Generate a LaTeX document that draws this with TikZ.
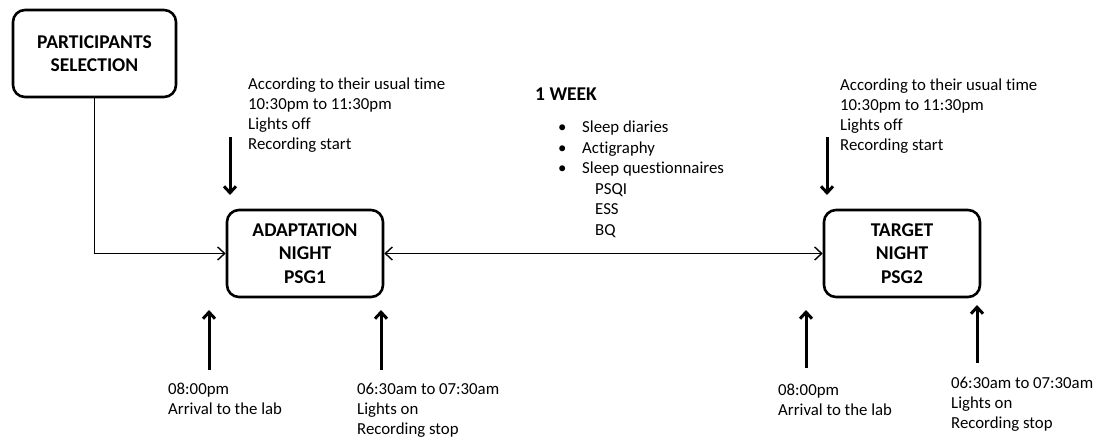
\documentclass[tikz,border=0pt]{standalone}
\usepackage{fontspec}
\setmainfont{Carlito}[RawFeature=-liga]
\usetikzlibrary{arrows.meta}
\newcommand{\txtfnt}{\fontsize{16.8pt}{20pt}\selectfont}
\newcommand{\lstfnt}{\fontsize{16.8pt}{20.5pt}\selectfont}
\newcommand{\boxfnt}{\fontsize{19.5pt}{23.5pt}\selectfont\bfseries}
\begin{document}
\begin{tikzpicture}[x=1pt,y=-1pt,
  stagebox/.style={draw, line width=2.6pt, rounded corners=12pt, align=center,
    font=\boxfnt, inner sep=0pt},
  lbl/.style={anchor=north west, align=left, inner sep=0pt, font=\txtfnt},
  thinarrow/.style={line width=1.4pt, -{Straight Barb[length=7pt,width=13pt]}},
  thinboth/.style={line width=1.4pt, {Straight Barb[length=7pt,width=13pt]}-{Straight Barb[length=7pt,width=13pt]}},
  thickarrow/.style={line width=3pt, -{Straight Barb[length=6.5pt,width=12pt]}}]
\useasboundingbox (0,0) rectangle (1097,437);

% boxes
\node[stagebox, minimum width=163pt, minimum height=87pt] (ps) at (94.5,53.5) {PARTICIPANTS\\SELECTION};
\node[stagebox, minimum width=156pt, minimum height=87pt] (ad) at (305,253.5) {ADAPTATION\\NIGHT\\PSG1};
\node[stagebox, minimum width=156pt, minimum height=87pt] (tg) at (902,253.5) {TARGET\\NIGHT\\PSG2};

% connectors between boxes
\draw[thinarrow] (ps.south) |- (ad.west);
\draw[thinboth] (ad.east) -- (tg.west);

% labels
\node[lbl] (t1) at (248,78) {According to their usual time\\10:30pm to 11:30pm\\Lights off\\Recording start};
\node[lbl] (t2) at (840,79) {According to their usual time\\10:30pm to 11:30pm\\Lights off\\Recording start};
\node[lbl] (b1) at (168,383) {08:00pm\\Arrival to the lab};
\node[lbl] (b2) at (357,383) {06:30am to 07:30am\\Lights on\\Recording stop};
\node[lbl] (b3) at (778,384) {08:00pm\\Arrival to the lab};
\node[lbl] (b4) at (951,377) {06:30am to 07:30am\\Lights on\\Recording stop};

\node[anchor=north west, inner sep=0pt, font=\boxfnt] (wk) at (535,88) {1 WEEK};
\node[anchor=north west, align=left, inner sep=0pt, font=\lstfnt] (lst) at (558,121)
  {\makebox[24pt][l]{\textbullet}Sleep diaries\\
   \makebox[24pt][l]{\textbullet}Actigraphy\\
   \makebox[24pt][l]{\textbullet}Sleep questionnaires\\
   \hspace*{37pt}PSQI\\
   \hspace*{37pt}ESS\\
   \hspace*{37pt}BQ};

% arrow end points
\coordinate (d1s) at (230,137); \coordinate (d1e) at (230,195);
\coordinate (d2s) at (827,137); \coordinate (d2e) at (827,195);
\coordinate (u1s) at (209,370); \coordinate (u1e) at (209,310);
\coordinate (u2s) at (381,370); \coordinate (u2e) at (381,310);
\coordinate (u3s) at (806,368); \coordinate (u3e) at (806,310);
\coordinate (u4s) at (977,363); \coordinate (u4e) at (977,305);

\draw[thickarrow] (d1s) -- (d1e);
\draw[thickarrow] (d2s) -- (d2e);
\draw[thickarrow] (u1s) -- (u1e);
\draw[thickarrow] (u2s) -- (u2e);
\draw[thickarrow] (u3s) -- (u3e);
\draw[thickarrow] (u4s) -- (u4e);
\end{tikzpicture}
\end{document}
